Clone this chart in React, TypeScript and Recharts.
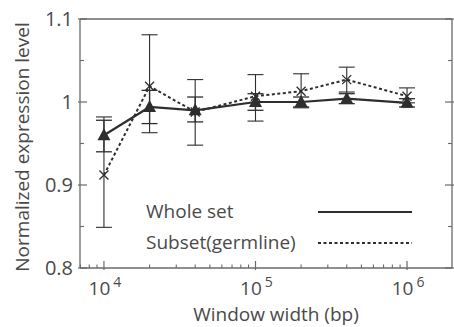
import React from 'react';
import { ComposedChart, Line, XAxis, YAxis, ErrorBar, Legend } from 'recharts';

const windows = [1e4, 2e4, 4e4, 1e5, 2e5, 4e5, 1e6];
const wholeMean = [0.960, 0.994, 0.990, 1.000, 1.000, 1.004, 0.999];
const wholeErrLow = [0.020, 0.020, 0.014, 0.010, 0.006, 0.006, 0.005];
const wholeErrHigh = [0.018, 0.020, 0.016, 0.010, 0.006, 0.006, 0.005];
const subsetMean = [0.912, 1.019, 0.988, 1.007, 1.013, 1.027, 1.007];
const subsetErrLow = [0.063, 0.056, 0.040, 0.030, 0.020, 0.015, 0.008];
const subsetErrHigh = [0.070, 0.062, 0.039, 0.026, 0.021, 0.015, 0.010];

const xMajorTicks = [1e4, 1e5, 1e6];
const xMinorTicks = [7e3, 8e3, 9e3, 2e4, 3e4, 4e4, 5e4, 6e4, 7e4, 8e4, 9e4, 2e5, 3e5, 4e5, 5e5, 6e5, 7e5, 8e5, 9e5];
const yMajorTicks = [0.8, 0.9, 1.0, 1.1];
const yMinorTicks = [0.85, 0.95, 1.05];
const seriesNames = ['Whole set', 'Subset(germline)'];

const data = windows.map((w, i) => ({
  w,
  whole: wholeMean[i],
  wholeErr: [wholeErrLow[i], wholeErrHigh[i]],
  subset: subsetMean[i],
  subsetErr: [subsetErrLow[i], subsetErrHigh[i]],
}));

const xAllTicks = [...xMinorTicks, ...xMajorTicks].sort((a, b) => a - b);
const yAllTicks = [...yMinorTicks, ...yMajorTicks].sort((a, b) => a - b);
const isMajor = (v: number, majors: number[]) => majors.some((m) => Math.abs(m - v) / m < 1e-6);

const FONT = '"Open Sans", sans-serif';
const TEXT = '#4a4a4a';
const AXIS = '#6a6a6a';
const INK = '#2e2e2e';
const X_DOMAIN: [number, number] = [6950, 1.98e6];
const Y_DOMAIN: [number, number] = [0.8, 1.1];

const makeXTick = (side: 'bottom' | 'top') => (props: any) => {
  const { x, y, payload } = props;
  const major = isMajor(payload.value, xMajorTicks);
  const len = major ? 7 : 3.5;
  const dir = side === 'bottom' ? -1 : 1;
  const exp = Math.round(Math.log10(payload.value));
  return (
    <g>
      <line x1={x} x2={x} y1={y - dir * (major ? 2 : 0)} y2={y + dir * len} stroke={AXIS} strokeWidth={major ? 1.2 : 1.1} />
      {side === 'bottom' && major ? (
        <text x={x + 1} y={y + 27} textAnchor="middle" fill={TEXT} fontFamily={FONT} fontSize={19}>
          <tspan>10</tspan>
          <tspan dx={3} dy={-8} fontSize={14}>{exp}</tspan>
        </text>
      ) : null}
    </g>
  );
};

const makeYTick = (side: 'left' | 'right') => (props: any) => {
  const { x, y, payload } = props;
  const v = payload.value;
  const major = isMajor(v, yMajorTicks);
  const len = major ? 7 : 4;
  const dir = side === 'left' ? 1 : -1;
  const label = Math.abs(v - 1) < 1e-9 ? '1' : v.toFixed(1);
  return (
    <g>
      <line x1={x - dir * (major ? 2 : 0)} x2={x + dir * len} y1={y} y2={y} stroke={AXIS} strokeWidth={major ? 1.2 : 1.1} />
      {side === 'left' && major ? (
        <text x={x - 7} y={y} dy={7} textAnchor="end" fill={TEXT} fontFamily={FONT} fontSize={20}>
          {label}
        </text>
      ) : null}
    </g>
  );
};

const XTickBottom = makeXTick('bottom');
const XTickTop = makeXTick('top');
const YTickLeft = makeYTick('left');
const YTickRight = makeYTick('right');

const Triangle = (props: any) => {
  const { cx, cy } = props;
  if (cx == null || cy == null) return <g />;
  return <path d={`M${cx},${cy - 7} L${cx + 6.5},${cy + 5} L${cx - 6.5},${cy + 5} Z`} fill={INK} />;
};

const Cross = (props: any) => {
  const { cx, cy } = props;
  if (cx == null || cy == null) return <g />;
  const s = 4.5;
  return (
    <path d={`M${cx - s},${cy - s} L${cx + s},${cy + s} M${cx - s},${cy + s} L${cx + s},${cy - s}`} stroke={INK} strokeWidth={1.3} fill="none" />
  );
};

const LegendContent = () => (
  <div style={{ fontFamily: FONT, fontSize: 19, color: TEXT, lineHeight: '31px' }}>
    {seriesNames.map((n, i) => (
      <div key={n} style={{ position: 'relative', height: 31, width: 270 }}>
        <span>{n}</span>
        <svg style={{ position: 'absolute', left: 172, top: 0 }} width={96} height={31}>
          <line x1={0} x2={94} y1={16} y2={16} stroke={INK} strokeWidth={i === 0 ? 2.2 : 2} strokeDasharray={i === 0 ? undefined : '3 2.5'} />
        </svg>
      </div>
    ))}
  </div>
);

export default function App() {
  return (
    <div style={{ position: 'absolute', left: 0, top: 0, width: 454, height: 327, background: '#fff' }}>
      <ComposedChart width={454} height={327} data={data} margin={{ top: 18, right: 1, left: 79, bottom: 58 }}>
        <XAxis xAxisId="main" dataKey="w" type="number" scale="log" domain={X_DOMAIN} allowDataOverflow
          ticks={xAllTicks} interval={0} tick={<XTickBottom />} tickLine={false} tickSize={0} tickMargin={0} height={1}
          axisLine={{ stroke: AXIS, strokeWidth: 1.3 }}
          label={{ content: () => (
            <text x={276} y={321} textAnchor="middle" fill={TEXT} fontFamily={FONT} fontSize={19}>Window width (bp)</text>
          ) }} />
        <XAxis xAxisId="top" orientation="top" type="number" scale="log" domain={X_DOMAIN} allowDataOverflow
          ticks={xAllTicks} interval={0} tick={<XTickTop />} tickLine={false} tickSize={0} tickMargin={0} height={1}
          axisLine={{ stroke: AXIS, strokeWidth: 1.3 }} />

        <YAxis yAxisId="main" type="number" domain={Y_DOMAIN} allowDataOverflow ticks={yAllTicks} interval={0}
          tick={<YTickLeft />} tickLine={false} tickSize={0} tickMargin={0} width={1}
          axisLine={{ stroke: AXIS, strokeWidth: 1.3 }}
          label={{ content: () => (
            <text x={29} y={147} transform="rotate(-90 29 147)" textAnchor="middle" fill={TEXT} fontFamily={FONT} fontSize={19}>Normalized expression level</text>
          ) }} />
        <YAxis yAxisId="right" orientation="right" type="number" domain={Y_DOMAIN} allowDataOverflow ticks={yAllTicks} interval={0}
          tick={<YTickRight />} tickLine={false} tickSize={0} tickMargin={0} width={1}
          axisLine={{ stroke: AXIS, strokeWidth: 1.3 }} />

        <Line xAxisId="main" yAxisId="main" dataKey="subset" name={seriesNames[1]} stroke={INK} strokeWidth={2}
          strokeDasharray="3 2.5" dot={<Cross />} isAnimationActive={false}>
          <ErrorBar dataKey="subsetErr" direction="y" width={8} stroke={INK} strokeWidth={1.1} isAnimationActive={false} />
        </Line>
        <Line xAxisId="main" yAxisId="main" dataKey="whole" name={seriesNames[0]} stroke={INK} strokeWidth={2.2}
          dot={<Triangle />} isAnimationActive={false}>
          <ErrorBar dataKey="wholeErr" direction="y" width={8} stroke={INK} strokeWidth={1.3} isAnimationActive={false} />
        </Line>

        <Legend layout="vertical" align="center" verticalAlign="middle" content={<LegendContent />}
          wrapperStyle={{ position: 'absolute', left: 146, top: 196, width: 280 }} />
      </ComposedChart>
    </div>
  );
}
